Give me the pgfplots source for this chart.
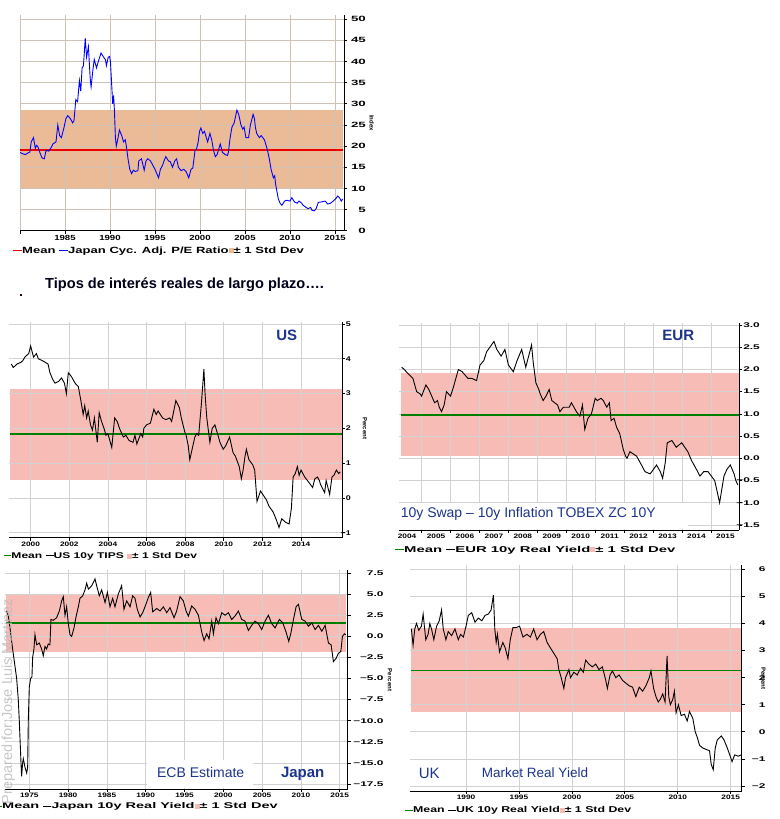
\documentclass[border=0pt]{standalone}
\usepackage{fontspec}
\setmainfont{Liberation Sans}
\newfontfamily\wf[FakeStretch=1.45]{Liberation Sans}
\newfontfamily\wfb[FakeStretch=1.75]{Liberation Sans}
\newfontfamily\tf[FakeStretch=1.3]{Liberation Sans}
\newfontfamily\yf[FakeStretch=1.75]{Liberation Sans}
\usepackage{pgfplots}
\pgfplotsset{compat=1.18}
\definecolor{bandtan}{RGB}{235,187,152}
\definecolor{bandpink}{RGB}{248,188,182}
\definecolor{meanred}{RGB}{235,0,0}
\definecolor{meangreen}{RGB}{0,128,0}
\definecolor{navy}{RGB}{28,52,140}
\definecolor{gridgray}{RGB}{210,210,210}
\definecolor{wm}{RGB}{185,185,185}
\pgfplotsset{
  panel/.style={
    scale only axis, set layers,
    anchor=south west,
    axis x line*=bottom, axis y line*=right,
    tick align=outside,
    major tick length=3pt,
    grid=major,
    grid style={draw=gridgray, line width=0.7pt},
    axis line style={black, line width=0.9pt},
    tick style={black, line width=0.7pt},
    xticklabel style={font=\tf\bfseries\fontsize{7}{8}\selectfont, inner sep=1pt},
    yticklabel style={font=\yf\bfseries\fontsize{6.8}{8}\selectfont, inner sep=1pt, anchor=east},
  },
  band/.style={draw=none, fill=#1, on layer=axis background, forget plot},
}
\begin{document}
\begin{tikzpicture}[x=1pt,y=1pt]

% ---------------- Panel 1: Japan CAPE ----------------
\begin{axis}[panel, at={(20pt,588.3pt)}, width=324pt, height=215.7pt,
  xmin=1980, xmax=2016, ymin=0, ymax=51,
  grid style={draw=gridgray!80!brown, line width=0.7pt},
  xtick={1980,1985,...,2015}, xticklabels={,1985,1990,1995,2000,2005,2010,2015},
  ytick={0,5,...,50}, yticklabels={0,5,10,15,20,25,30,35,40,45,50},
  yticklabel style={xshift=20pt, font=\yf\bfseries\fontsize{7.6}{8}\selectfont},
  xticklabel style={font=\tf\bfseries\fontsize{7.4}{8}\selectfont}]
\addplot[band=bandtan] coordinates {(1980,9.8)(2015.9,9.8)(2015.9,28.5)(1980,28.5)} -- cycle;
\addplot[draw=meanred, color=meanred, line width=1.2pt] coordinates {(1979.9,19.1)(2015.9,19.1)};
\addplot[draw=blue, line width=0.9pt] coordinates {(1980.0,18.5)(1980.3,18.2)(1980.6,18.0)(1980.9,18.4)(1981.1,18.6)(1981.25,21.0)(1981.5,22.0)(1981.7,19.5)(1981.85,20.2)(1982.0,19.8)(1982.2,18.5)(1982.45,17.2)(1982.7,17.0)(1982.9,19.0)(1983.2,18.8)(1983.5,19.8)(1983.65,20.5)(1984.0,21.0)(1984.2,25.0)(1984.4,22.5)(1984.6,22.0)(1984.9,24.5)(1985.1,26.5)(1985.3,27.2)(1985.6,26.5)(1985.85,25.5)(1986.0,26.0)(1986.2,31.0)(1986.4,30.5)(1986.6,35.5)(1986.75,33.0)(1986.9,38.5)(1987.05,39.0)(1987.25,45.5)(1987.4,41.0)(1987.6,43.5)(1987.8,36.0)(1987.9,34.0)(1988.1,38.0)(1988.25,40.5)(1988.5,38.5)(1988.7,40.0)(1989.0,42.0)(1989.3,41.0)(1989.5,40.4)(1989.6,39.0)(1989.8,41.0)(1989.95,41.2)(1990.05,40.0)(1990.15,36.0)(1990.3,30.0)(1990.4,32.0)(1990.5,28.0)(1990.6,22.0)(1990.7,20.0)(1990.85,21.5)(1991.05,23.8)(1991.3,22.5)(1991.5,21.0)(1991.7,21.5)(1991.85,19.5)(1992.0,17.0)(1992.2,14.5)(1992.4,13.5)(1992.6,14.3)(1992.8,14.0)(1993.1,14.2)(1993.2,16.5)(1993.5,17.0)(1993.8,14.3)(1994.0,16.5)(1994.2,17.0)(1994.5,16.5)(1994.75,15.5)(1995.0,14.5)(1995.4,12.5)(1995.6,14.5)(1995.85,15.5)(1996.0,16.5)(1996.2,17.5)(1996.5,16.5)(1996.7,16.3)(1996.95,15.0)(1997.2,16.5)(1997.4,17.0)(1997.6,15.0)(1997.9,14.2)(1998.2,14.5)(1998.45,14.0)(1998.75,12.5)(1999.0,14.5)(1999.2,14.8)(1999.45,19.0)(1999.6,19.2)(1999.8,21.0)(1999.95,23.5)(2000.1,24.3)(2000.3,23.0)(2000.5,23.5)(2000.7,22.0)(2000.85,21.0)(2001.1,23.0)(2001.3,21.5)(2001.5,19.0)(2001.7,17.5)(2001.9,18.0)(2002.25,20.5)(2002.5,18.5)(2002.8,18.0)(2003.05,17.8)(2003.15,18.5)(2003.35,22.0)(2003.55,24.5)(2003.8,25.5)(2004.1,28.5)(2004.3,27.5)(2004.55,25.0)(2004.75,24.0)(2004.9,24.5)(2005.1,22.0)(2005.4,22.0)(2005.6,25.0)(2005.9,27.5)(2006.05,26.5)(2006.15,24.5)(2006.3,23.0)(2006.6,22.0)(2006.8,22.5)(2007.15,21.5)(2007.3,20.5)(2007.5,19.0)(2007.7,17.0)(2007.9,14.5)(2008.15,12.5)(2008.3,13.0)(2008.4,11.0)(2008.7,7.5)(2008.9,6.5)(2009.1,6.0)(2009.4,7.0)(2009.6,7.2)(2010.0,7.0)(2010.2,7.8)(2010.5,6.8)(2010.8,6.5)(2011.0,7.0)(2011.3,6.5)(2011.45,6.0)(2011.8,5.5)(2012.0,5.2)(2012.3,5.5)(2012.45,4.8)(2012.7,4.7)(2012.9,5.2)(2013.15,6.7)(2013.5,6.8)(2013.9,7.0)(2014.2,6.3)(2014.5,6.5)(2014.8,7.0)(2015.05,7.5)(2015.3,8.2)(2015.5,7.8)(2015.7,7.0)(2015.85,7.5)};
\end{axis}

% ---------------- Panel 2: US ----------------
\begin{axis}[panel, at={(9pt,281.3pt)}, width=333pt, height=215.4pt,
  xmin=1998.88, xmax=2016.12, ymin=-1.144, ymax=5.05,
  xtick={2000,2002,...,2014}, xticklabels={2000,2002,2004,2006,2008,2010,2012,2014},
  ytick={-1,0,...,5}, yticklabels={−1,0,1,2,3,4,5},
  yticklabel style={xshift=7pt, font=\tf\bfseries\fontsize{6.8}{8}\selectfont},
  xticklabel style={font=\tf\bfseries\fontsize{6.4}{8}\selectfont}]
\addplot[band=bandpink] coordinates {(1998.95,0.52)(2016.1,0.52)(2016.1,3.13)(1998.95,3.13)} -- cycle;
\addplot[draw=meangreen, line width=2.4pt] coordinates {(1998.95,1.83)(2016.1,1.83)};
\addplot[draw=black, line width=0.9pt] coordinates {(1999.0,3.85)(1999.1,3.75)(1999.3,3.85)(1999.5,3.9)(1999.6,3.95)(1999.7,4.05)(1999.8,4.1)(1999.9,4.15)(2000.0,4.37)(2000.15,4.05)(2000.3,4.15)(2000.4,4.0)(2000.6,3.95)(2000.9,3.85)(2001.0,3.6)(2001.15,3.4)(2001.26,3.3)(2001.45,3.35)(2001.6,3.45)(2001.75,3.3)(2001.85,3.0)(2001.95,3.6)(2002.1,3.5)(2002.3,3.3)(2002.47,3.2)(2002.6,2.8)(2002.72,2.4)(2002.8,2.65)(2002.9,2.3)(2002.98,2.5)(2003.1,2.1)(2003.2,1.95)(2003.3,2.3)(2003.45,1.6)(2003.55,2.45)(2003.67,2.2)(2003.8,2.0)(2003.9,1.8)(2004.0,1.85)(2004.2,1.45)(2004.35,2.3)(2004.48,2.2)(2004.6,2.0)(2004.8,1.75)(2004.93,1.8)(2005.1,1.65)(2005.3,1.6)(2005.4,1.8)(2005.5,1.55)(2005.7,1.85)(2005.8,1.75)(2005.86,2.0)(2006.0,2.1)(2006.2,2.15)(2006.38,2.55)(2006.5,2.4)(2006.6,2.5)(2006.83,2.3)(2007.0,2.25)(2007.2,2.3)(2007.3,2.2)(2007.52,2.8)(2007.7,2.6)(2007.8,2.3)(2007.98,1.9)(2008.05,1.8)(2008.16,1.5)(2008.24,1.1)(2008.4,1.5)(2008.5,1.75)(2008.6,1.85)(2008.7,1.8)(2008.84,2.7)(2008.97,3.7)(2009.03,3.0)(2009.12,2.3)(2009.28,1.6)(2009.4,2.0)(2009.54,2.1)(2009.7,1.8)(2009.8,1.6)(2009.97,1.4)(2010.1,1.5)(2010.3,1.75)(2010.48,1.3)(2010.6,1.2)(2010.8,0.9)(2010.91,0.55)(2011.0,0.8)(2011.1,1.2)(2011.17,1.4)(2011.3,1.1)(2011.5,0.95)(2011.6,0.8)(2011.72,-0.1)(2011.9,0.2)(2012.02,0.1)(2012.2,-0.05)(2012.35,-0.25)(2012.55,-0.4)(2012.7,-0.6)(2012.86,-0.85)(2013.0,-0.6)(2013.2,-0.7)(2013.38,-0.75)(2013.5,-0.3)(2013.59,0.6)(2013.7,0.7)(2013.81,0.9)(2013.9,0.65)(2014.0,0.8)(2014.19,0.6)(2014.4,0.45)(2014.6,0.3)(2014.71,0.55)(2014.85,0.6)(2014.95,0.5)(2015.0,0.4)(2015.22,0.15)(2015.3,0.5)(2015.48,0.1)(2015.6,0.6)(2015.7,0.65)(2015.83,0.8)(2015.95,0.7)(2016.03,0.75)};
\end{axis}

% ---------------- Panel 3: EUR ----------------
\begin{axis}[panel, at={(399.3pt,289pt)}, width=339.7pt, height=207.2pt,
  xmin=2004.23, xmax=2015.97, ymin=-1.613, ymax=3.05,
  xtick={2005,2006,...,2015}, xticklabels={},
  extra x ticks={2004.5,2005.5,...,2015.5},
  extra x tick labels={2004,2005,2006,2007,2008,2009,2010,2011,2012,2013,2014,2015},
  extra x tick style={grid=none, tick style={draw=none}},
  ytick={-1.5,-1,...,3}, yticklabels={−1.5,−1.0,−0.5,0.0,0.5,1.0,1.5,2.0,2.5,3.0},
  yticklabel style={xshift=19pt},
  xticklabel style={font=\tf\bfseries\fontsize{6.4}{8}\selectfont}]
\addplot[band=bandpink] coordinates {(2004.3,0.05)(2015.97,0.05)(2015.97,1.92)(2004.3,1.92)} -- cycle;
\addplot[draw=meangreen, line width=2.4pt] coordinates {(2004.3,0.98)(2015.97,0.98)};
\addplot[draw=black, line width=0.9pt] coordinates {(2004.31,2.05)(2004.4,2.0)(2004.54,1.9)(2004.7,1.8)(2004.83,1.5)(2004.95,1.45)(2005.0,1.4)(2005.15,1.65)(2005.25,1.55)(2005.35,1.4)(2005.45,1.25)(2005.55,1.3)(2005.61,1.15)(2005.69,1.05)(2005.78,1.2)(2005.86,1.5)(2006.0,1.4)(2006.1,1.6)(2006.27,2.0)(2006.4,1.95)(2006.6,1.8)(2006.73,1.8)(2006.9,1.75)(2007.02,2.1)(2007.15,2.2)(2007.25,2.4)(2007.5,2.63)(2007.6,2.45)(2007.75,2.3)(2007.88,2.45)(2008.0,2.1)(2008.17,1.95)(2008.3,2.2)(2008.46,2.45)(2008.6,2.05)(2008.8,2.55)(2008.86,2.15)(2008.95,1.7)(2009.05,1.55)(2009.1,1.45)(2009.2,1.3)(2009.3,1.4)(2009.41,1.55)(2009.5,1.3)(2009.7,1.2)(2009.78,1.05)(2009.9,1.15)(2010.1,1.15)(2010.18,1.25)(2010.35,1.05)(2010.47,0.95)(2010.56,1.2)(2010.64,0.65)(2010.75,0.9)(2010.87,1.0)(2011.0,1.35)(2011.07,1.3)(2011.2,1.35)(2011.28,1.3)(2011.4,1.15)(2011.49,1.25)(2011.55,0.85)(2011.65,0.9)(2011.74,0.7)(2011.85,0.55)(2011.97,0.2)(2012.05,0.05)(2012.1,0.0)(2012.2,0.15)(2012.43,0.05)(2012.6,-0.15)(2012.72,-0.3)(2012.9,-0.35)(2013.12,-0.15)(2013.25,-0.3)(2013.33,-0.45)(2013.42,-0.1)(2013.49,0.35)(2013.65,0.4)(2013.8,0.25)(2013.99,0.35)(2014.2,0.15)(2014.33,-0.05)(2014.5,-0.25)(2014.62,-0.4)(2014.75,-0.3)(2014.9,-0.3)(2015.13,-0.5)(2015.3,-1.0)(2015.4,-0.6)(2015.45,-0.4)(2015.55,-0.25)(2015.67,-0.15)(2015.8,-0.35)(2015.86,-0.5)(2015.93,-0.6)};
\end{axis}

% ---------------- Panel 4: Japan real yield ----------------
\begin{axis}[panel, at={(4.7pt,30pt)}, width=343pt, height=219pt,
  xmin=1971.83, xmax=2016.03, ymin=-18.09, ymax=7.86,
  xtick={1975,1980,...,2015}, xticklabels={1975,1980,1985,1990,1995,2000,2005,2010,2015},
  ytick={-17.5,-15,...,7.5}, yticklabels={−17.5,−15.0,−12.5,−10.0,−7.5,−5.0,−2.5,0.0,2.5,5.0,7.5},
  yticklabel style={xshift=34pt},
  xticklabel style={font=\tf\bfseries\fontsize{6.4}{8}\selectfont}]
\addplot[band=bandpink] coordinates {(1972.0,-1.9)(2015.85,-1.9)(2015.85,5.06)(1972.0,5.06)} -- cycle;
\addplot[draw=meangreen, line width=2.4pt] coordinates {(1972.0,1.55)(2015.85,1.55)};
\addplot[draw=black, line width=0.9pt] coordinates {(1972.08,3.0)(1972.3,2.4)(1972.51,1.0)(1972.85,-1.5)(1973.15,-3.5)(1973.37,-5.0)(1973.58,-7.5)(1973.71,-10.0)(1973.93,-15.0)(1974.01,-16.6)(1974.14,-15.0)(1974.23,-14.5)(1974.44,-15.5)(1974.66,-16.2)(1974.79,-15.5)(1974.87,-10.0)(1975.0,-6.0)(1975.17,-5.0)(1975.34,-4.8)(1975.43,-2.5)(1975.6,-1.5)(1975.73,0.2)(1975.95,-1.0)(1976.29,-0.8)(1976.59,-1.5)(1976.8,-2.3)(1977.02,-1.2)(1977.23,-1.5)(1977.45,-0.9)(1977.66,-1.0)(1977.79,2.0)(1978.09,1.9)(1978.52,2.2)(1978.87,3.0)(1979.17,4.2)(1979.38,4.7)(1979.6,2.5)(1979.81,3.5)(1980.03,1.5)(1980.24,0.2)(1980.46,0.0)(1980.76,1.0)(1981.02,2.3)(1981.32,3.5)(1981.53,4.5)(1981.88,4.8)(1982.18,5.5)(1982.39,6.3)(1982.61,5.6)(1983.04,6.0)(1983.47,6.8)(1983.68,6.0)(1984.02,4.8)(1984.33,5.5)(1984.76,4.0)(1985.06,5.2)(1985.4,3.5)(1985.74,4.5)(1986.04,3.5)(1986.47,5.0)(1986.9,6.0)(1987.2,3.2)(1987.55,4.2)(1987.98,3.5)(1988.32,4.8)(1988.62,4.5)(1988.92,3.2)(1989.27,2.3)(1989.61,2.8)(1989.91,3.5)(1990.34,4.6)(1990.64,5.2)(1990.9,2.9)(1991.42,3.3)(1991.85,3.0)(1992.28,3.5)(1992.71,2.8)(1993.13,3.4)(1993.65,2.2)(1993.99,3.0)(1994.42,4.7)(1994.85,4.2)(1995.2,3.0)(1995.5,2.4)(1995.93,3.6)(1996.36,3.2)(1996.79,2.5)(1997.22,0.5)(1997.52,-0.5)(1997.86,0.3)(1998.16,-0.3)(1998.51,1.8)(1998.72,0.3)(1999.06,2.2)(1999.37,1.5)(1999.8,2.8)(2000.23,2.5)(2000.66,2.8)(2001.08,2.0)(2001.51,2.4)(2001.94,3.0)(2002.37,2.0)(2002.8,1.8)(2003.23,0.7)(2003.66,1.3)(2004.09,1.8)(2004.52,1.5)(2004.95,0.8)(2005.38,1.8)(2005.81,2.5)(2006.24,1.5)(2006.67,1.0)(2007.23,2.0)(2007.66,1.6)(2008.09,0.5)(2008.43,-0.6)(2008.69,0.3)(2009.04,2.0)(2009.38,3.5)(2009.68,3.8)(2010.11,2.0)(2010.54,1.8)(2010.97,1.2)(2011.4,1.6)(2011.83,0.8)(2012.26,1.3)(2012.69,0.6)(2013.12,1.3)(2013.55,-0.8)(2013.89,-1.0)(2014.19,-3.0)(2014.54,-2.6)(2014.84,-2.0)(2015.14,-1.8)(2015.35,0.0)(2015.61,0.3)(2015.78,0.2)};
\end{axis}

% ---------------- Panel 5: UK ----------------
\begin{axis}[panel, at={(410pt,28pt)}, width=331.7pt, height=226pt,
  xmin=1984.71, xmax=2016.04, ymin=-2.185, ymax=6.16,
  xtick={1990,1995,...,2015}, xticklabels={1990,1995,2000,2005,2010,2015},
  ytick={-2,-1,...,6}, yticklabels={−2,−1,0,1,2,3,4,5,6},
  yticklabel style={xshift=22pt},
  xticklabel style={font=\tf\bfseries\fontsize{6.4}{8}\selectfont}]
\addplot[band=bandpink] coordinates {(1984.85,0.73)(2016.0,0.73)(2016.0,3.82)(1984.85,3.82)} -- cycle;
\addplot[draw=meangreen, line width=1pt] coordinates {(1984.85,2.27)(2016.0,2.27)};
\addplot[draw=black, line width=0.9pt] coordinates {(1984.84,3.8)(1985.0,3.2)(1985.16,3.8)(1985.32,4.0)(1985.54,3.75)(1985.79,3.9)(1985.95,4.35)(1986.2,3.4)(1986.42,3.6)(1986.58,4.0)(1986.74,3.8)(1986.96,3.4)(1987.22,3.9)(1987.47,4.1)(1987.69,4.5)(1987.85,3.8)(1988.1,3.4)(1988.32,3.7)(1988.64,3.55)(1988.96,3.8)(1989.27,3.4)(1989.49,3.6)(1989.75,3.5)(1990.0,3.9)(1990.22,4.3)(1990.54,4.4)(1990.85,4.05)(1991.17,4.2)(1991.49,4.1)(1991.8,4.3)(1992.12,4.35)(1992.37,4.5)(1992.59,5.05)(1992.72,3.8)(1992.85,3.3)(1992.97,3.6)(1993.16,2.95)(1993.48,3.3)(1993.7,3.1)(1993.96,2.7)(1994.18,3.4)(1994.43,3.85)(1994.75,3.85)(1995.06,3.9)(1995.38,3.5)(1995.76,3.6)(1996.08,3.5)(1996.39,3.8)(1996.71,3.4)(1997.03,3.6)(1997.34,3.7)(1997.66,3.3)(1997.97,3.1)(1998.29,2.9)(1998.61,2.7)(1998.77,2.3)(1998.99,2.0)(1999.24,1.6)(1999.4,2.0)(1999.72,2.3)(1999.87,2.0)(2000.19,2.2)(2000.51,2.1)(2000.82,2.35)(2001.08,2.2)(2001.3,2.65)(2001.61,2.5)(2001.93,2.4)(2002.25,2.5)(2002.56,2.3)(2002.88,2.4)(2003.2,1.9)(2003.35,1.6)(2003.61,2.1)(2003.83,2.25)(2004.15,2.0)(2004.46,2.1)(2004.78,1.9)(2005.09,1.8)(2005.41,1.7)(2005.73,1.65)(2006.04,1.3)(2006.36,1.65)(2006.68,1.5)(2006.99,1.7)(2007.31,2.0)(2007.47,2.25)(2007.72,1.6)(2007.94,1.3)(2008.16,1.1)(2008.35,1.2)(2008.58,1.4)(2008.8,1.1)(2008.99,2.8)(2009.15,1.3)(2009.3,1.0)(2009.53,1.2)(2009.68,1.5)(2009.84,0.7)(2010.06,1.0)(2010.32,0.6)(2010.63,0.65)(2010.89,0.4)(2011.11,0.75)(2011.42,0.5)(2011.65,0.0)(2011.84,-0.2)(2012.06,-0.5)(2012.37,-0.6)(2012.69,-0.65)(2013.0,-0.7)(2013.16,-1.2)(2013.35,-1.4)(2013.54,-0.6)(2013.73,-0.3)(2014.11,-0.15)(2014.37,-0.3)(2014.68,-0.6)(2014.91,-0.85)(2015.13,-1.1)(2015.38,-0.85)(2015.7,-0.9)(2016.01,-0.85)};
\end{axis}

% ---------------- texts ----------------
\fill[white] (399.3,289.6) rectangle (687.7,316.3);
\fill[white] (146.7,30.6) rectangle (253.3,59);
\node[font=\fontsize{14}{16}\selectfont, text=navy] at (528.3,305) {10y Swap – 10y Inflation TOBEX ZC 10Y};
\node[font=\bfseries\fontsize{15}{17}\selectfont, text=navy] at (286.7,484) {US};
\node[font=\bfseries\fontsize{15}{17}\selectfont, text=navy] at (678.3,484) {EUR};
\node[font=\fontsize{14}{16}\selectfont, text=navy] at (200.7,46.7) {ECB Estimate};
\node[font=\bfseries\fontsize{15}{17}\selectfont, text=navy] at (302.7,45) {Japan};
\node[font=\fontsize{15}{17}\selectfont, text=navy] at (429.3,45.7) {UK};
\node[font=\fontsize{13.5}{16}\selectfont, text=navy] at (535,46.7) {Market Real Yield};

\node[rotate=-90, font=\bfseries\fontsize{6}{7}\selectfont] at (371.7,696) {Index};
\node[rotate=-90, font=\bfseries\fontsize{6}{7}\selectfont] at (365,390.7) {Percent};
\node[rotate=-90, font=\bfseries\fontsize{6}{7}\selectfont] at (390,139) {Percent};
\node[rotate=-90, font=\bfseries\fontsize{6}{7}\selectfont] at (763.3,140.7) {Percent};

% title
\fill[black!85!red] (19.7,523) rectangle (21.7,525);
\node[anchor=west, inner sep=0, font=\bfseries\fontsize{14.6}{17}\selectfont, text=black!90!blue] at (45,534) {Tipos de interés reales de largo plazo….};

% legends
\node[anchor=west, inner sep=0, font=\wf\bfseries\fontsize{9}{10}\selectfont] at (13,568.3)
 {\textcolor{meanred}{\rule[2.4pt]{9pt}{1.1pt}}Mean \textcolor{blue}{\rule[2.4pt]{9pt}{1pt}}Japan Cyc. Adj. P/E Ratio\textcolor{bandtan}{\rule[0pt]{5pt}{5pt}}± 1 Std Dev};
\node[anchor=west, inner sep=0, font=\wf\bfseries\fontsize{8.3}{10}\selectfont] at (3.3,262.5)
 {\textcolor{meangreen}{\rule[2.2pt]{8pt}{1pt}}Mean \textcolor{black}{\rule[2.2pt]{8pt}{1pt}}US 10y TIPS \textcolor{bandpink}{\rule[0pt]{5pt}{5pt}}± 1 Std Dev};
\node[anchor=west, inner sep=0, font=\wfb\bfseries\fontsize{8.5}{10}\selectfont] at (395,269)
 {\textcolor{meangreen}{\rule[2.2pt]{9pt}{1pt}}Mean \textcolor{black}{\rule[2.2pt]{9pt}{1pt}}EUR 10y Real Yield\textcolor{bandpink}{\rule[0pt]{5pt}{5pt}}± 1 Std Dev};
\node[anchor=west, inner sep=0, font=\wfb\bfseries\fontsize{8.3}{10}\selectfont] at (-6,12.3)
 {\textcolor{meangreen}{\rule[2.2pt]{8pt}{1pt}}Mean \textcolor{black}{\rule[2.2pt]{8pt}{1pt}}Japan 10y Real Yield\textcolor{bandpink}{\rule[0pt]{5pt}{5pt}}± 1 Std Dev};
\node[anchor=west, inner sep=0, font=\wf\bfseries\fontsize{8.5}{10}\selectfont] at (405,8.3)
 {\textcolor{meangreen}{\rule[2.2pt]{8pt}{1pt}}Mean \textcolor{black}{\rule[2.2pt]{8pt}{1pt}}UK 10y Real Yield\textcolor{bandpink}{\rule[0pt]{5pt}{5pt}}± 1 Std Dev};

% watermark
\node[rotate=90, text=wm, opacity=0.8, font=\fontsize{14.5}{16}\selectfont] at (8.5,117.5) {Prepared for:Jose Luis Martinez};

\pgfresetboundingbox
\path[use as bounding box] (0,0) rectangle (779,819);
\end{tikzpicture}
\end{document}
